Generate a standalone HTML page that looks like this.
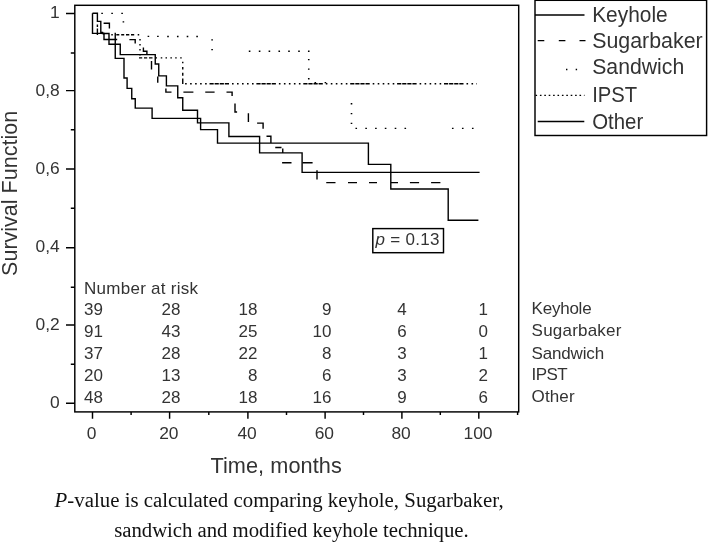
<!DOCTYPE html>
<html lang="en"><head><meta charset="utf-8"><title>Survival function by technique</title>
<style>html,body{margin:0;padding:0;background:#fff}svg{display:block}text{font-family:"Liberation Sans",Arial,sans-serif;fill:#333}.ser{font-family:"Liberation Serif","Times New Roman",serif;fill:#111}.ln{fill:none;stroke:#000;stroke-width:1.4;stroke-linecap:butt;stroke-linejoin:miter}.ax{fill:none;stroke:#000;stroke-width:1.45}</style></head><body>
<svg width="708" height="543" viewBox="0 0 708 543">
<rect x="0" y="0" width="708" height="543" fill="#fff"/>
<rect class="ax" x="74.8" y="5.3" width="443.90000000000003" height="406.59999999999997"/>
<path class="ax" d="M66 13.5H74.8M66 90.6H74.8M66 168.9H74.8M66 247.8H74.8M66 324.9H74.8M66 403.3H74.8M70.8 52.9H74.8M70.8 129.8H74.8M70.8 208.2H74.8M70.8 287.3H74.8M70.8 364.2H74.8M92.5 411.9V418.8M169.6 411.9V418.8M247.9 411.9V418.8M325.1 411.9V418.8M401.9 411.9V418.8M478.8 411.9V418.8M131.1 411.9V415M208.8 411.9V415M286.5 411.9V415M363.5 411.9V415M440.3 411.9V415M517.6 411.9V415"/>
<text x="59.7" y="17.7" font-size="17.4" text-anchor="end">1</text>
<text x="59.7" y="95.7" font-size="17.4" text-anchor="end">0,8</text>
<text x="59.7" y="173.8" font-size="17.4" text-anchor="end">0,6</text>
<text x="59.7" y="251.8" font-size="17.4" text-anchor="end">0,4</text>
<text x="59.7" y="329.9" font-size="17.4" text-anchor="end">0,2</text>
<text x="59.7" y="407.9" font-size="17.4" text-anchor="end">0</text>
<text x="91.7" y="438.8" font-size="17.4" text-anchor="middle">0</text>
<text x="168.8" y="438.8" font-size="17.4" text-anchor="middle">20</text>
<text x="247.1" y="438.8" font-size="17.4" text-anchor="middle">40</text>
<text x="324.3" y="438.8" font-size="17.4" text-anchor="middle">60</text>
<text x="401.1" y="438.8" font-size="17.4" text-anchor="middle">80</text>
<text x="478.0" y="438.8" font-size="17.4" text-anchor="middle">100</text>
<text x="210.4" y="473.3" font-size="21.7" textLength="131.4" lengthAdjust="spacing">Time, months</text>
<text transform="translate(17.3 275.9) rotate(-90)" font-size="21.5" textLength="165" lengthAdjust="spacing">Survival Function</text>
<text class="ser" x="54.6" y="506.5" font-size="20.8" textLength="449" lengthAdjust="spacing"><tspan font-style="italic">P</tspan>-value is calculated comparing keyhole, Sugarbaker,</text>
<text class="ser" x="114.2" y="536.8" font-size="20.8" textLength="354.5" lengthAdjust="spacing">sandwich and modified keyhole technique.</text>
<rect class="ax" x="535" y="0.3" width="171.6" height="135.2"/>
<text x="592.2" y="22.3" font-size="21.8" fill="#111" textLength="75.5" lengthAdjust="spacingAndGlyphs">Keyhole</text>
<text x="592.2" y="48" font-size="21.8" fill="#111" textLength="110.5" lengthAdjust="spacingAndGlyphs">Sugarbaker</text>
<text x="592.2" y="74" font-size="21.8" fill="#111" textLength="92" lengthAdjust="spacingAndGlyphs">Sandwich</text>
<text x="592.2" y="102.4" font-size="21.8" fill="#111" textLength="45" lengthAdjust="spacingAndGlyphs">IPST</text>
<text x="592.2" y="128.8" font-size="21.8" fill="#111" textLength="51" lengthAdjust="spacingAndGlyphs">Other</text>
<path class="ln" d="M535 15H584.5"/>
<path class="ln" d="M537.7 40.6H544.3M558.8 40.6H565.4M579.5 40.6H585.5"/>
<path class="ln" d="M566 69.5h1.4M575.7 69.5h1.4"/>
<path class="ln" stroke-dasharray="1.6 2.8" d="M535.5 95.4H584.5"/>
<path class="ln" d="M537.7 121.5H584.3"/>
<text x="84" y="294.3" font-size="17" textLength="114" lengthAdjust="spacing">Number at risk</text>
<text x="103" y="315.0" font-size="17" text-anchor="end">39</text>
<text x="180.5" y="315.0" font-size="17" text-anchor="end">28</text>
<text x="257.5" y="315.0" font-size="17" text-anchor="end">18</text>
<text x="331.5" y="315.0" font-size="17" text-anchor="end">9</text>
<text x="406.7" y="315.0" font-size="17" text-anchor="end">4</text>
<text x="488" y="315.0" font-size="17" text-anchor="end">1</text>
<text x="531.6" y="314.4" font-size="17" textLength="60" lengthAdjust="spacing">Keyhole</text>
<text x="103" y="337.0" font-size="17" text-anchor="end">91</text>
<text x="180.5" y="337.0" font-size="17" text-anchor="end">43</text>
<text x="257.5" y="337.0" font-size="17" text-anchor="end">25</text>
<text x="331.5" y="337.0" font-size="17" text-anchor="end">10</text>
<text x="406.7" y="337.0" font-size="17" text-anchor="end">6</text>
<text x="488" y="337.0" font-size="17" text-anchor="end">0</text>
<text x="531.6" y="336.4" font-size="17" textLength="89.8" lengthAdjust="spacing">Sugarbaker</text>
<text x="103" y="359.3" font-size="17" text-anchor="end">37</text>
<text x="180.5" y="359.3" font-size="17" text-anchor="end">28</text>
<text x="257.5" y="359.3" font-size="17" text-anchor="end">22</text>
<text x="331.5" y="359.3" font-size="17" text-anchor="end">8</text>
<text x="406.7" y="359.3" font-size="17" text-anchor="end">3</text>
<text x="488" y="359.3" font-size="17" text-anchor="end">1</text>
<text x="531.6" y="358.7" font-size="17" textLength="72.5" lengthAdjust="spacing">Sandwich</text>
<text x="103" y="381.0" font-size="17" text-anchor="end">20</text>
<text x="180.5" y="381.0" font-size="17" text-anchor="end">13</text>
<text x="257.5" y="381.0" font-size="17" text-anchor="end">8</text>
<text x="331.5" y="381.0" font-size="17" text-anchor="end">6</text>
<text x="406.7" y="381.0" font-size="17" text-anchor="end">3</text>
<text x="488" y="381.0" font-size="17" text-anchor="end">2</text>
<text x="531.6" y="380.4" font-size="17" textLength="36" lengthAdjust="spacing">IPST</text>
<text x="103" y="402.5" font-size="17" text-anchor="end">48</text>
<text x="180.5" y="402.5" font-size="17" text-anchor="end">28</text>
<text x="257.5" y="402.5" font-size="17" text-anchor="end">18</text>
<text x="331.5" y="402.5" font-size="17" text-anchor="end">16</text>
<text x="406.7" y="402.5" font-size="17" text-anchor="end">9</text>
<text x="488" y="402.5" font-size="17" text-anchor="end">6</text>
<text x="531.6" y="401.9" font-size="17" textLength="43" lengthAdjust="spacing">Other</text>
<rect class="ax" x="372.8" y="228.6" width="70.7" height="24.1" stroke-width="1.1"/>
<text x="375.4" y="245.4" font-size="17" textLength="64" lengthAdjust="spacing"><tspan font-style="italic">p</tspan> = 0.13</text>
<path class="ln" d="M92.5 13.2V33.4H104V39.5H117.2M115.25 32.75V58.4H124V78H127.1V88.4H131.75V98.75H135.25V108.1H152.1V118.4H200.6V129.6H217.5V143.1H368.4V164.4H390.8V189H448.2V220.2H478.4"/>
<path class="ln" d="M92.5 13.2H97.4V21.4H100.8V32.5H102.5V33.5H109V44.25H120.25V54.6H155.25V64H158.75V75.9H166.4V85.9H177.75V97.75H182.75V110.25H197.5V122.9H228.9V136.5H259.6V152.9H302.1V172.4H479.6"/>
<path class="ln" stroke-width="2" d="M101.4 32.4L104.3 34.2"/>
<path class="ln" d="M97.4 24.5V27M97.4 28.6V35M103.6 23.2H109.4V28.6M129.4 39.6H135.2V43.5M143.4 47.6V51.3H146.9V54.4M151.5 60.9V69.6M157.75 76.5V82.75M165.9 88.4V92.1H171.5M183.4 92.1H193.4M205.25 92.1H214.6M226.5 92.1H232.1V95.9M235 103.4V112H237.1M248.4 113.3V122M257.1 123.1H263.1V128.75M266.5 136.3H270.9V143.1M275.25 147.5H281.5M282.75 148.4V152.9M282.1 162.7H291.5M302.5 162.7H312.6M317 170.2V179.6M326.25 182.6H335.5M348 182.6H357M369 182.6H377M391 182.6H398M409.9 182.6H419.1M431.1 182.6H440.4"/>
<path class="ln" d="M111.3 34.75h1.5M116.3 34.75h3M121.2 34.75h3M126 34.75h3.3M131 34.75h3.2M137.7 34.75h1.5M140 39v1.5M140 44v1.5M140 49v1.5M140 54v1.5M139 57.9h3.2M144 57.9h3.2M149 57.9h3.5M155.5 57.9h1.5M160.75 57.9h1.5M165.5 57.9h1.5M170.4 57.9h1.5M175.2 57.9h1.5M180.2 57.9h1.5M182.75 61.7v1.6M182.75 67.1v2.5M182.75 72.75v3.1M182.75 78.4v5.6"/>
<path class="ln" stroke-dasharray="1.6 3.4 1.6 3.4 1.6 3.4 1.6 3.4 1.6 2.8 4.2 0.9 4.2 0.9 4.2 0.9 4.2 3" d="M185.1 83.75H477"/>
<path class="ln" stroke-width="1.4" d="M101.30 13.4h1.6M111.30 13.4h1.6M121.30 13.4h1.6M122.60 21.9h1.6M147.60 36.4h1.6M157.10 36.4h1.6M167.20 36.5h1.6M176.95 36.5h1.6M186.70 36.5h1.6M196.30 36.5h1.6M211.30 39.9h1.6M211.30 49.6h1.6M248.80 51.25h1.6M258.80 51.25h1.6M268.60 51.25h1.6M278.45 51.25h1.6M288.20 51.25h1.6M298.20 51.25h1.6M307.95 51.25h1.6M307.95 59.6h1.6M307.95 69.1h1.6M307.95 78.75h1.6M350.70 103.75h1.6M350.70 113.6h1.6M350.70 123.4h1.6M355.45 128.4h1.6M365.30 128.4h1.6M375.10 128.4h1.6M384.80 128.4h1.6M394.70 128.4h1.6M404.50 128.4h1.6M451.95 128.4h1.6M461.95 128.4h1.6M471.95 128.4h1.6M314.50 82.6h1.6M324.60 82.6h1.6"/>
</svg></body></html>
